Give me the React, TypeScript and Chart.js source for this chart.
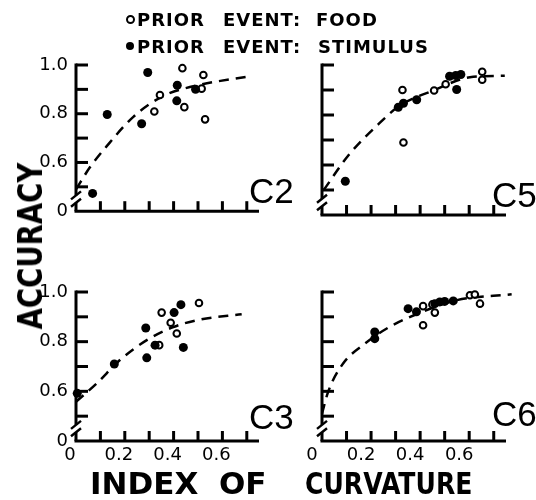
import React, { useEffect, useRef } from 'react';
import { Chart, registerables } from 'chart.js';

Chart.register(...registerables);

// ---- Data (index of curvature, accuracy) ----
const c2Food: [number, number][] = [[0.436, 0.987], [0.522, 0.959], [0.344, 0.877], [0.321, 0.809], [0.444, 0.827], [0.529, 0.777], [0.515, 0.903]];
const c2Stim: [number, number][] = [[0.068, 0.473], [0.128, 0.797], [0.294, 0.969], [0.269, 0.759], [0.415, 0.917], [0.413, 0.853], [0.49, 0.9]];
const c2Fit: [number, number][] = [[0, 0.49], [0.057, 0.58], [0.126, 0.667], [0.235, 0.787], [0.358, 0.873], [0.481, 0.913], [0.706, 0.953]];

const c5Food: [number, number][] = [[0.328, 0.9], [0.332, 0.69], [0.457, 0.898], [0.504, 0.923], [0.653, 0.973], [0.653, 0.941]];
const c5Stim: [number, number][] = [[0.095, 0.535], [0.311, 0.831], [0.332, 0.847], [0.386, 0.861], [0.52, 0.955], [0.549, 0.902], [0.545, 0.958], [0.566, 0.962]];
const c5Fit: [number, number][] = [[0.007, 0.5], [0.108, 0.639], [0.224, 0.758], [0.318, 0.838], [0.454, 0.898], [0.603, 0.951], [0.745, 0.957]];

const c3Food: [number, number][] = [[0.341, 0.786], [0.351, 0.917], [0.388, 0.876], [0.413, 0.833], [0.504, 0.956]];
const c3Stim: [number, number][] = [[0.005, 0.592], [0.157, 0.71], [0.286, 0.855], [0.29, 0.735], [0.324, 0.786], [0.402, 0.917], [0.43, 0.949], [0.44, 0.777]];
const c3Fit: [number, number][] = [[0, 0.558], [0.085, 0.632], [0.18, 0.726], [0.29, 0.806], [0.399, 0.859], [0.508, 0.889], [0.679, 0.91]];

const c6Food: [number, number][] = [[0.412, 0.943], [0.412, 0.866], [0.46, 0.917], [0.45, 0.95], [0.603, 0.987], [0.623, 0.99], [0.644, 0.953]];
const c6Stim: [number, number][] = [[0.215, 0.839], [0.215, 0.812], [0.351, 0.933], [0.385, 0.92], [0.46, 0.953], [0.48, 0.96], [0.5, 0.962], [0.535, 0.964]];
const c6Fit: [number, number][] = [[0, 0.51], [0.025, 0.598], [0.086, 0.712], [0.167, 0.786], [0.276, 0.86], [0.412, 0.921], [0.549, 0.967], [0.773, 0.991]];

// ---- Axis ticks ----
const xLabelValues = [0, 0.2, 0.4, 0.6];
const xLabelTexts = ['0', '0.2', '0.4', '0.6'];
const yLabelValues = [0.4, 0.6, 0.8, 1.0];
const yLabelTexts = ['0', '0.6', '0.8', '1.0'];
const xTickMarks = [0.1, 0.2, 0.3, 0.4, 0.5, 0.6, 0.7];
const yTickMarks = [0.5, 0.6, 0.7, 0.8, 0.9, 1.0];
const X_MIN = 0, X_MAX = 0.75, Y_MIN = 0.4, Y_MAX = 1.0;
const BREAK_HIGH = 0.465, BREAK_LOW = 0.435;

const legendWords1 = ['PRIOR', 'EVENT:', 'FOOD'];
const legendWords2 = ['PRIOR', 'EVENT:', 'STIMULUS'];

const line = (ctx: CanvasRenderingContext2D, x1: number, y1: number, x2: number, y2: number) => {
  ctx.beginPath();
  ctx.moveTo(x1, y1);
  ctx.lineTo(x2, y2);
  ctx.stroke();
};

const axisDeco = {
  id: 'axisDeco',
  beforeDatasetsDraw(chart: any) {
    const { ctx, scales } = chart;
    const xs = scales.x, ys = scales.y;
    const x0 = xs.getPixelForValue(X_MIN);
    const xEnd = xs.getPixelForValue(X_MAX);
    const yBot = ys.getPixelForValue(Y_MIN);
    const yTop = ys.getPixelForValue(Y_MAX);
    const bTop = ys.getPixelForValue(BREAK_HIGH);
    const bBot = ys.getPixelForValue(BREAK_LOW);
    ctx.save();
    ctx.strokeStyle = '#000';
    ctx.lineWidth = 3;
    ctx.lineCap = 'butt';
    line(ctx, x0 - 1.5, yBot, xEnd, yBot);
    line(ctx, x0, yTop - 1.5, x0, bTop);
    line(ctx, x0, bBot, x0, yBot);
    for (const v of yTickMarks) {
      const py = ys.getPixelForValue(v);
      line(ctx, x0, py, x0 + 12, py);
    }
    for (const v of xTickMarks) {
      const px = xs.getPixelForValue(v);
      line(ctx, px, yBot, px, yBot - 10);
    }
    ctx.lineWidth = 2.5;
    line(ctx, x0 - 5, bTop + 4, x0 + 5, bTop - 4);
    line(ctx, x0 - 5, bBot + 4, x0 + 5, bBot - 4);
    ctx.restore();
  },
};

type PanelProps = {
  food: [number, number][];
  stim: [number, number][];
  fit: [number, number][];
  left: number;
  top: number;
  width: number;
  height: number;
  padTop: number;
  padRight: number;
  yAxisW: number;
  xAxisH: number;
  showX: boolean;
  showY: boolean;
  labelOffset: number;
};

function Panel(p: PanelProps) {
  const ref = useRef<HTMLCanvasElement>(null);
  useEffect(() => {
    const font = { family: 'DejaVu Sans', size: 18 };
    const chart = new Chart(ref.current as HTMLCanvasElement, {
      type: 'scatter',
      data: {
        datasets: [
          {
            data: p.stim.map(([x, y]) => ({ x, y })),
            pointRadius: 4.5,
            pointBackgroundColor: '#000',
            pointBorderColor: '#000',
            pointBorderWidth: 0,
            clip: false,
          } as any,
          {
            data: p.food.map(([x, y]) => ({ x, y })),
            pointRadius: 3.3,
            pointBackgroundColor: '#fff',
            pointBorderColor: '#000',
            pointBorderWidth: 2,
            clip: false,
          } as any,
          {
            data: p.fit.map(([x, y]) => ({ x, y })),
            showLine: true,
            pointRadius: 0,
            borderColor: '#000',
            borderWidth: 2.5,
            borderDash: [10, 7],
            cubicInterpolationMode: 'monotone',
            fill: false,
            clip: false,
          } as any,
        ],
      },
      options: {
        animation: false,
        responsive: false,
        maintainAspectRatio: false,
        devicePixelRatio: 1,
        events: [],
        layout: { padding: { top: p.padTop, right: p.padRight, left: 0, bottom: 0 } },
        plugins: { legend: { display: false }, tooltip: { enabled: false } },
        scales: {
          x: {
            type: 'linear',
            min: X_MIN,
            max: X_MAX,
            grid: { display: false, drawTicks: false, tickLength: 0 },
            border: { display: false },
            afterBuildTicks: (s: any) => {
              s.ticks = xLabelValues.map((v) => ({ value: v }));
            },
            afterFit: (s: any) => {
              s.height = p.xAxisH;
            },
            ticks: {
              display: p.showX,
              autoSkip: false,
              maxRotation: 0,
              padding: 4,
              labelOffset: p.labelOffset,
              color: '#000',
              font,
              callback: (v: any) => {
                const i = xLabelValues.findIndex((t) => Math.abs(t - Number(v)) < 1e-6);
                return i >= 0 ? xLabelTexts[i] : '';
              },
            },
          },
          y: {
            type: 'linear',
            min: Y_MIN,
            max: Y_MAX,
            grid: { display: false, drawTicks: false, tickLength: 0 },
            border: { display: false },
            afterBuildTicks: (s: any) => {
              s.ticks = yLabelValues.map((v) => ({ value: v }));
            },
            afterFit: (s: any) => {
              s.width = p.yAxisW;
            },
            ticks: {
              display: p.showY,
              autoSkip: false,
              padding: 8,
              color: '#000',
              font,
              callback: (v: any) => {
                const i = yLabelValues.findIndex((t) => Math.abs(t - Number(v)) < 1e-6);
                return i >= 0 ? yLabelTexts[i] : '';
              },
            },
          },
        },
      } as any,
      plugins: [axisDeco as any],
    });
    return () => chart.destroy();
  }, []);
  return (
    <canvas
      ref={ref}
      width={p.width}
      height={p.height}
      style={{ position: 'absolute', left: p.left, top: p.top, width: p.width, height: p.height }}
    />
  );
}

const boldFont = "'DejaVu Sans', sans-serif";

export default function App() {
  const txt = (s: string, left: number, top: number, extra: React.CSSProperties = {}) => (
    <div
      style={{
        position: 'absolute',
        left,
        top,
        whiteSpace: 'pre',
        lineHeight: 1,
        color: '#000',
        ...extra,
      }}
    >
      {s}
    </div>
  );
  const legendStyle: React.CSSProperties = { fontFamily: boldFont, fontWeight: 'bold', fontSize: 18, letterSpacing: 1 };
  const panelLbl: React.CSSProperties = { fontFamily: "'Liberation Sans', sans-serif", fontSize: 35 };
  const axisTitle = (sx: number): React.CSSProperties => ({
    fontFamily: boldFont,
    fontWeight: 'bold',
    fontSize: 31,
    transform: `scaleX(${sx})`,
    transformOrigin: 'left top',
  });
  const legendX = [137, 223, 316];
  const legendX2 = [137, 223, 318];
  return (
    <div style={{ position: 'absolute', left: 0, top: 0, width: 536, height: 500, background: '#fff', overflow: 'hidden' }}>
      <Panel food={c2Food} stim={c2Stim} fit={c2Fit} left={0} top={40} width={290} height={190} padTop={25} padRight={31} yAxisW={76} xAxisH={15} showX={false} showY={true} labelOffset={-6} />
      <Panel food={c5Food} stim={c5Stim} fit={c5Fit} left={290} top={40} width={246} height={190} padTop={25} padRight={30} yAxisW={32} xAxisH={15} showX={false} showY={false} labelOffset={-10} />
      <Panel food={c3Food} stim={c3Stim} fit={c3Fit} left={0} top={262} width={290} height={210} padTop={30} padRight={31} yAxisW={76} xAxisH={31} showX={true} showY={true} labelOffset={-6} />
      <Panel food={c6Food} stim={c6Stim} fit={c6Fit} left={290} top={262} width={246} height={210} padTop={30} padRight={30} yAxisW={32} xAxisH={31} showX={true} showY={false} labelOffset={-10} />

      {/* legend */}
      <div style={{ position: 'absolute', left: 126, top: 15, width: 5, height: 5, border: '2px solid #000', borderRadius: '50%', background: '#fff' }} />
      <div style={{ position: 'absolute', left: 126, top: 42, width: 8, height: 8, borderRadius: '50%', background: '#000' }} />
      {legendWords1.map((w, i) => <React.Fragment key={'a' + i}>{txt(w, legendX[i], 11, legendStyle)}</React.Fragment>)}
      {legendWords2.map((w, i) => <React.Fragment key={'b' + i}>{txt(w, legendX2[i], 38, legendStyle)}</React.Fragment>)}

      {/* panel labels */}
      {txt('C2', 249, 173, panelLbl)}
      {txt('C5', 492, 177, panelLbl)}
      {txt('C3', 249, 399, panelLbl)}
      {txt('C6', 492, 396, panelLbl)}

      {/* y axis title */}
      <div
        style={{
          position: 'absolute',
          left: 30,
          top: 246,
          whiteSpace: 'nowrap',
          lineHeight: 1,
          fontFamily: boldFont,
          fontWeight: 'bold',
          fontSize: 34,
          color: '#000',
          transform: 'translate(-50%, -50%) rotate(-90deg) scaleX(0.81)',
        }}
      >
        ACCURACY
      </div>

      {/* x axis title */}
      {txt('INDEX', 90, 468, axisTitle(1.0))}
      {txt('OF', 219, 468, axisTitle(1.0))}
      {txt('CURVATURE', 305, 468, axisTitle(0.81))}
    </div>
  );
}
